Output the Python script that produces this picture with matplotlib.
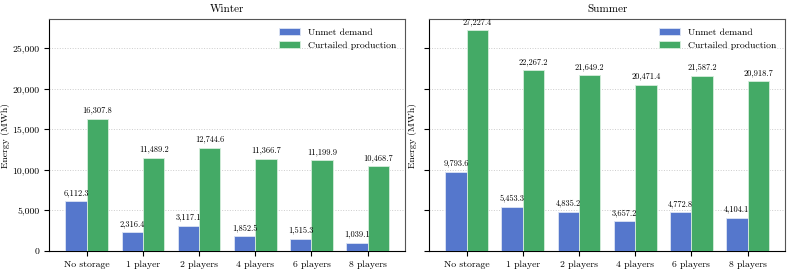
import matplotlib
matplotlib.use("Agg")
import matplotlib.pyplot as plt
import numpy as np

categories = ["No storage", "1 player", "2 players", "4 players", "6 players", "8 players"]
winter_unmet = [6112.3, 2316.4, 3117.1, 1852.5, 1515.3, 1039.1]
winter_curtailed = [16307.8, 11489.2, 12744.6, 11366.7, 11199.9, 10468.7]
summer_unmet = [9793.6, 5453.3, 4835.2, 3657.2, 4772.8, 4104.1]
summer_curtailed = [27227.4, 22267.2, 21649.2, 20471.4, 21587.2, 20918.7]

plt.rcParams['font.family'] = ['cmr10', 'DejaVu Serif']
plt.rcParams['mathtext.fontset'] = 'cm'
plt.rcParams['axes.formatter.use_mathtext'] = True
plt.rcParams['axes.unicode_minus'] = False

blue = '#5577CC'
green = '#44AA66'

fig, axes = plt.subplots(1, 2, figsize=(7.93, 2.72), dpi=100, sharey=True)
x = np.arange(len(categories))
w = 0.38

for ax, title, un, cu in [(axes[0], "Winter", winter_unmet, winter_curtailed),
                          (axes[1], "Summer", summer_unmet, summer_curtailed)]:
    b1 = ax.bar(x - w/2, un, w, color=blue, edgecolor='#dde4f4', linewidth=0.6, label="Unmet demand", zorder=3)
    b2 = ax.bar(x + w/2, cu, w, color=green, edgecolor='#d6eedd', linewidth=0.6, label="Curtailed production", zorder=3)
    for bars in (b1, b2):
        ax.bar_label(bars, labels=[f"{v:,.1f}" for v in bars.datavalues], padding=3, fontsize=6)
    ax.set_title(title, fontsize=8, pad=5)
    ax.set_xticks(x)
    ax.set_xticklabels(categories, fontsize=7)
    ax.set_ylabel("Energy (MWh)", fontsize=7)
    ax.tick_params(axis='y', labelsize=7)
    ax.yaxis.set_major_formatter(matplotlib.ticker.FuncFormatter(lambda v, p: f"{v:,.0f}"))
    ax.grid(axis='y', linestyle=':', color='#cccccc', linewidth=0.7, zorder=0)
    ax.legend(loc='upper right', frameon=False, fontsize=7, handlelength=2.2)
    for s in ('top', 'right'):
        ax.spines[s].set_color('#555555')
    ax.set_ylim(0, 27227.4 * 1.05)

axes[1].tick_params(axis='y', labelleft=False)
axes[0].yaxis.set_label_coords(-0.11, 0.5)
axes[1].yaxis.set_label_coords(-0.034, 0.5)

fig.subplots_adjust(left=0.062, right=0.99, top=0.93, bottom=0.077, wspace=0.067)
fig.savefig("out.png", dpi=100)
